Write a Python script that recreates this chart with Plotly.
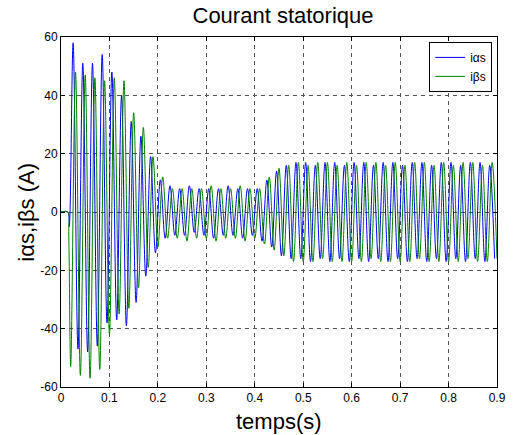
import plotly.graph_objects as go

# ---- data (extrema of each oscillation) ----
t_alpha = [0.0, 0.014, 0.017,
           0.025, 0.035, 0.045, 0.055, 0.065, 0.075, 0.085, 0.095, 0.105, 0.115,
           0.125, 0.135, 0.145, 0.155, 0.165, 0.175, 0.185, 0.195, 0.205, 0.215,
           0.225, 0.235, 0.245, 0.255, 0.265, 0.275, 0.285, 0.295, 0.305, 0.315,
           0.325, 0.335, 0.345, 0.355, 0.365, 0.375, 0.385, 0.395, 0.405, 0.415,
           0.425, 0.435, 0.445, 0.455, 0.465, 0.475, 0.485, 0.495, 0.505, 0.515,
           0.525, 0.535, 0.545, 0.555, 0.565, 0.575, 0.585, 0.595, 0.605, 0.615,
           0.625, 0.635, 0.645, 0.655, 0.665, 0.675, 0.685, 0.695, 0.705, 0.715,
           0.725, 0.735, 0.745, 0.755, 0.765, 0.775, 0.785, 0.795, 0.805, 0.815,
           0.825, 0.835, 0.845, 0.855, 0.865, 0.875, 0.885, 0.895]
i_alpha = [0, 0, -5,
           58, -47, 51, -48, 51, -46, 54, -38, 48, -37,
           40, -39, 31, -31, 26, -22, 19, -14, 11, -9,
           9, -8, 8, -8, 9, -7, 8, -8, 8, -9,
           8, -8, 9, -8, 8, -9, 8, -8, 8, -10,
           11, -12, 14, -15, 16, -16, 17, -16, 17, -17,
           16, -16, 17, -17, 17, -16, 16, -17, 17, -16,
           17, -17, 16, -16, 17, -17, 17, -16, 16, -17,
           17, -16, 17, -17, 16, -16, 17, -17, 17, -16,
           16, -17, 17, -16, 17, -17, 16, -16]

t_beta = [0.0, 0.014, 0.016,
          0.020, 0.030, 0.040, 0.050, 0.060, 0.070, 0.080, 0.090, 0.100, 0.110,
          0.120, 0.130, 0.140, 0.150, 0.160, 0.170, 0.180, 0.190, 0.200, 0.210,
          0.220, 0.230, 0.240, 0.250, 0.260, 0.270, 0.280, 0.290, 0.300, 0.310,
          0.320, 0.330, 0.340, 0.350, 0.360, 0.370, 0.380, 0.390, 0.400, 0.410,
          0.420, 0.430, 0.440, 0.450, 0.460, 0.470, 0.480, 0.490, 0.500, 0.510,
          0.520, 0.530, 0.540, 0.550, 0.560, 0.570, 0.580, 0.590, 0.600, 0.610,
          0.620, 0.630, 0.640, 0.650, 0.660, 0.670, 0.680, 0.690, 0.700, 0.710,
          0.720, 0.730, 0.740, 0.750, 0.760, 0.770, 0.780, 0.790, 0.800, 0.810,
          0.820, 0.830, 0.840, 0.850, 0.860, 0.870, 0.880, 0.890, 0.900]
i_beta = [0, 0, -8,
          -53, 48, -56, 47, -57, 46, -54, 45, -42, 46,
          -35, 45, -33, 34, -26, 29, -19, 19, -12, 12,
          -9, 8, -9, 8, -10, 8, -9, 8, -9, 9,
          -10, 8, -9, 8, -9, 9, -10, 8, -9, 8,
          -11, 12, -13, 15, -15, 16, -17, 17, -17, 16,
          -17, 17, -16, 17, -17, 16, -17, 17, -17, 16,
          -17, 17, -16, 17, -17, 16, -17, 17, -17, 16,
          -17, 17, -16, 17, -17, 16, -17, 17, -17, 16,
          -17, 17, -16, 17, -17, 16, -17, 17, -16]

x_ticks = [0, 0.1, 0.2, 0.3, 0.4, 0.5, 0.6, 0.7, 0.8, 0.9]
x_labels = ["0", "0.1", "0.2", "0.3", "0.4", "0.5", "0.6", "0.7", "0.8", "0.9"]
y_ticks = [-60, -40, -20, 0, 20, 40, 60]
y_labels = ["-60", "-40", "-20", "0", "20", "40", "60"]

FONT = "Liberation Sans, Arial, Helvetica, sans-serif"

W, H = 518, 435
ML, MR, MT, MB = 61, 13, 37, 48

fig = go.Figure()
fig.add_trace(go.Scatter(x=t_alpha, y=i_alpha, mode="lines", name="iαs",
                         line=dict(color="#0000ff", width=1, shape="spline")))
fig.add_trace(go.Scatter(x=t_beta, y=i_beta, mode="lines", name="iβs",
                         line=dict(color="#008000", width=1, shape="spline")))

axis_common = dict(showgrid=True, gridcolor="#555555", gridwidth=1, griddash="4px,4px",
                   showline=True, linecolor="black", linewidth=1, mirror="allticks",
                   ticks="inside", ticklen=4, tickcolor="black", zeroline=False,
                   tickfont=dict(family=FONT, size=12, color="black"))

fig.update_layout(
    width=W, height=H,
    margin=dict(l=ML, r=MR, t=MT, b=MB),
    paper_bgcolor="white", plot_bgcolor="white",
    font=dict(family=FONT, color="black"),
    title=dict(text="Courant statorique", x=(ML + (W - MR)) / 2 / W, xanchor="center",
               y=1 - 15 / H, yanchor="middle", yref="container",
               font=dict(family=FONT, size=22, color="black")),
    xaxis=dict(range=[0, 0.9], tickvals=x_ticks, ticktext=x_labels, **axis_common),
    yaxis=dict(range=[-60, 60], tickvals=y_ticks, ticktext=y_labels, **axis_common),
    legend=dict(x=0.989, y=0.986, xanchor="right", yanchor="top",
                bgcolor="white", bordercolor="black", borderwidth=1,
                font=dict(family=FONT, size=12, color="black"), tracegroupgap=0),
    showlegend=True,
    annotations=[
        dict(text="temps(s)", xref="paper", yref="paper", x=0.5, y=-(421 - 387) / 350,
             xanchor="center", yanchor="middle", showarrow=False,
             font=dict(family=FONT, size=22, color="black")),
        dict(text="iαs,iβs (A)", xref="paper", yref="paper", x=-(61 - 25) / 444, y=0.5,
             xanchor="center", yanchor="middle", textangle=-90, showarrow=False,
             font=dict(family=FONT, size=22, color="black")),
    ],
)

# remove the browser's default 8px body margin so the figure fills the window exactly
fig.write_html("out.html", config={"displayModeBar": False},
               post_script="document.body.style.margin='0';")
